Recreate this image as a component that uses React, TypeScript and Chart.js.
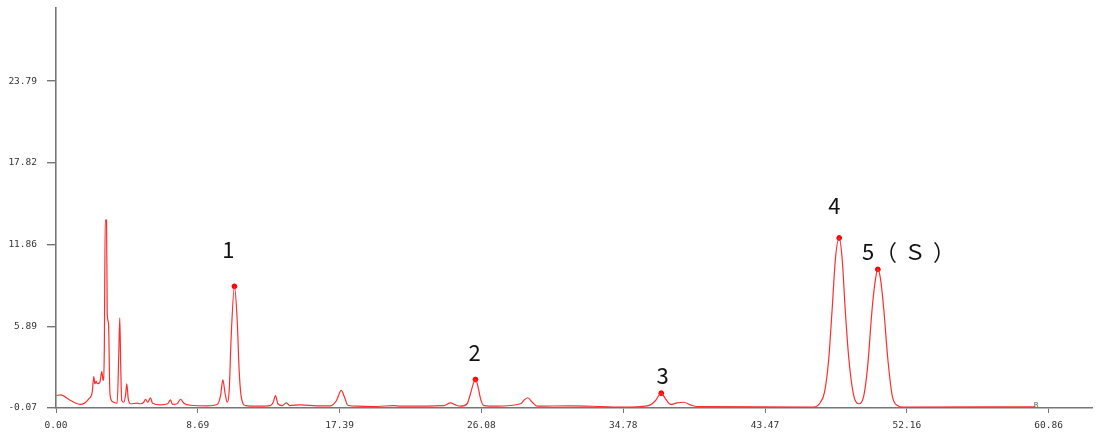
import React, { useEffect, useRef } from "react";
import { Chart, registerables } from "chart.js";

Chart.register(...registerables);

// Chromatogram trace (retention time in min, signal)
const times = [
  0.03, 0.28, 0.89, 1.5, 2.01, 2.22, 2.32, 2.38, 2.46, 2.54, 2.69, 2.81, 2.89, 2.96, 3.02, 3.1, 3.14, 3.22, 3.3, 3.38,
  3.54, 3.75, 3.85, 3.91, 3.97, 4.03, 4.16, 4.28, 4.34, 4.43, 4.57, 4.98, 5.18, 5.38, 5.49, 5.63, 5.79, 5.92, 6.41, 6.85,
  7.02, 7.14, 7.43, 7.63, 7.84, 8.25, 9.27, 9.88, 10.09, 10.23, 10.37, 10.5, 10.62, 10.74, 10.94, 11.11, 11.23, 11.36, 11.62, 12.34,
  13.15, 13.32, 13.46, 13.6, 13.87, 14.13, 14.33, 14.99, 16.01, 16.83, 17.2, 17.49, 17.69, 17.89, 18.47, 19.69, 20.71, 21.12, 23.78, 24.19,
  24.49, 24.8, 25.21, 25.41, 25.62, 25.72, 25.86, 26.03, 26.23, 27.05, 28.48, 28.72, 28.93, 29.2, 29.5, 31.55, 33.38, 34.81, 35.83, 36.45,
  36.76, 37.11, 37.37, 37.68, 38.09, 38.49, 38.9, 39.31, 40.13, 46.26, 46.46, 46.87, 47.12, 47.38, 47.59, 47.79, 48.02, 48.2, 48.4, 48.61,
  48.91, 49.22, 49.53, 49.77, 50.04, 50.25, 50.39, 50.55, 50.75, 51.0, 51.27, 51.58, 51.98, 60.05,
];
const signal = [
  0.84, 0.89, 0.48, 0.19, 0.6, 1.09, 2.23, 1.7, 1.89, 1.7, 1.82, 2.58, 1.94, 3.94, 13.64, 13.64, 6.84, 6.11, 1.21, 0.53,
  0.35, 0.28, 3.91, 6.52, 2.91, 0.48, 0.35, 1.01, 1.7, 0.6, 0.24, 0.28, 0.24, 0.35, 0.57, 0.35, 0.68, 0.28, 0.16, 0.24,
  0.53, 0.19, 0.24, 0.57, 0.28, 0.13, 0.09, 0.19, 0.84, 1.99, 0.97, 0.35, 1.21, 5.11, 8.81, 6.33, 2.67, 0.72, 0.11, 0.06,
  0.11, 0.35, 0.84, 0.24, 0.11, 0.31, 0.11, 0.16, 0.09, 0.09, 0.48, 1.21, 0.72, 0.13, 0.06, 0.04, 0.11, 0.06, 0.11, 0.31,
  0.16, 0.06, 0.24, 0.97, 1.82, 2.01, 1.57, 0.6, 0.11, 0.06, 0.24, 0.53, 0.68, 0.35, 0.06, 0.09, 0.04, -0.01, 0.04, 0.16,
  0.48, 1.01, 0.6, 0.19, 0.31, 0.35, 0.16, 0.04, 0.04, -0.01, -0.01, 0.35, 1.09, 3.53, 7.18, 10.84, 12.34, 10.84, 6.93, 3.53,
  0.84, 0.24, 0.84, 3.04, 7.18, 9.37, 10.05, 9.37, 7.18, 3.53, 0.84, 0.11, -0.01, 0.02,
];

// Marked peaks
const peakTimes = [10.94, 25.72, 37.11, 48.02, 50.39];
const peakValues = [8.81, 2.01, 1.01, 12.34, 10.05];
const peakLabels = ["1", "2", "3", "4", "5"];
const labelTimes = [10.56, 25.66, 37.19, 47.73, 49.8];
const labelValues = [11.48, 3.95, 2.31, 14.67, 11.37];
const suffixText = "（Ｓ）";
const suffixTime = 50.21;
const suffixValue = 11.37;

// Axis ticks
const xTickValues = [0, 8.694, 17.389, 26.083, 34.777, 43.471, 52.166, 60.86];
const xTickLabels = ["0.00", "8.69", "17.39", "26.08", "34.78", "43.47", "52.16", "60.86"];
const yTickValues = [-0.07, 5.895, 11.86, 17.825, 23.79];
const yTickLabels = ["-0.07", "5.89", "11.86", "17.82", "23.79"];

const xMin = 0;
const xMax = 63.52;
const yMin = -0.07;
const yMax = 29.13;

const endMarkTime = 60.1;
const endMarkValue = 0.12;

const axisColor = "#767676";
const tickFont = { family: "DejaVu Sans Mono", size: 9.5 };

const labelPlugin = {
  id: "peakLabels",
  afterDatasetsDraw(chart: any) {
    const { ctx, scales } = chart;
    const xs = scales.x;
    const ys = scales.y;
    ctx.save();
    ctx.fillStyle = "#111111";
    ctx.font = '22px "Noto Sans CJK SC", "Noto Sans", sans-serif';
    ctx.textBaseline = "middle";
    ctx.textAlign = "center";
    peakLabels.forEach((txt, i) => {
      ctx.fillText(txt, xs.getPixelForValue(labelTimes[i]), ys.getPixelForValue(labelValues[i]));
    });
    ctx.textAlign = "left";
    try {
      (ctx as any).letterSpacing = "7px";
    } catch (e) {}
    ctx.fillText(suffixText, xs.getPixelForValue(suffixTime), ys.getPixelForValue(suffixValue));
    try {
      (ctx as any).letterSpacing = "0px";
    } catch (e) {}
    ctx.fillStyle = "#555555";
    ctx.font = '7px "DejaVu Sans", sans-serif';
    ctx.textAlign = "center";
    ctx.fillText("R", xs.getPixelForValue(endMarkTime), ys.getPixelForValue(endMarkValue));
    ctx.restore();
  },
};

export default function App() {
  const ref = useRef<HTMLCanvasElement | null>(null);

  useEffect(() => {
    document.body.style.margin = "0";
    const canvas = ref.current;
    if (!canvas) return;
    const chart = new Chart(canvas, {
      type: "line",
      data: {
        datasets: [
          {
            data: times.map((t, i) => ({ x: t, y: signal[i] })),
            borderColor: "rgb(255,45,45)",
            borderWidth: 1.2,
            pointRadius: 0,
            cubicInterpolationMode: "monotone",
            fill: false,
          },
          {
            data: peakTimes.map((t, i) => ({ x: t, y: peakValues[i] })),
            showLine: false,
            pointRadius: 2.4,
            pointStyle: "circle",
            pointBackgroundColor: "rgb(255,0,0)",
            pointBorderColor: "rgb(255,0,0)",
            pointBorderWidth: 1,
          },
        ],
      },
      options: {
        responsive: false,
        animation: false,
        devicePixelRatio: 1,
        layout: { padding: { top: 8, right: 0, left: 0, bottom: 0 } },
        plugins: { legend: { display: false }, tooltip: { enabled: false } },
        scales: {
          x: {
            type: "linear",
            min: xMin,
            max: xMax,
            afterBuildTicks: (scale: any) => {
              scale.ticks = xTickValues.map((v) => ({ value: v }));
            },
            afterFit: (scale: any) => {
              scale.height = 24;
              scale.paddingLeft = 0;
              scale.paddingRight = 0;
            },
            ticks: {
              autoSkip: false,
              maxRotation: 0,
              padding: 7,
              color: "#333333",
              font: tickFont,
              callback: (_v: any, i: number) => xTickLabels[i],
            },
            grid: { drawOnChartArea: false, drawTicks: true, tickLength: 5, color: axisColor, lineWidth: 1 },
            border: { display: true, color: axisColor, width: 1.6 },
          },
          y: {
            type: "linear",
            min: yMin,
            max: yMax,
            afterBuildTicks: (scale: any) => {
              scale.ticks = yTickValues.map((v) => ({ value: v }));
            },
            afterFit: (scale: any) => {
              scale.width = 56;
              scale.paddingTop = 0;
              scale.paddingBottom = 0;
            },
            ticks: {
              autoSkip: false,
              padding: 10,
              color: "#333333",
              font: tickFont,
              callback: (_v: any, i: number) => yTickLabels[i],
            },
            grid: { drawOnChartArea: false, drawTicks: true, tickLength: 9, color: axisColor, lineWidth: 1.4 },
            border: { display: true, color: axisColor, width: 1.6 },
          },
        },
      },
      plugins: [labelPlugin],
    } as any);
    return () => chart.destroy();
  }, []);

  return (
    <div style={{ width: 1097, height: 432 }}>
      <canvas ref={ref} width={1097} height={432} style={{ display: "block", width: 1097, height: 432 }} />
    </div>
  );
}
